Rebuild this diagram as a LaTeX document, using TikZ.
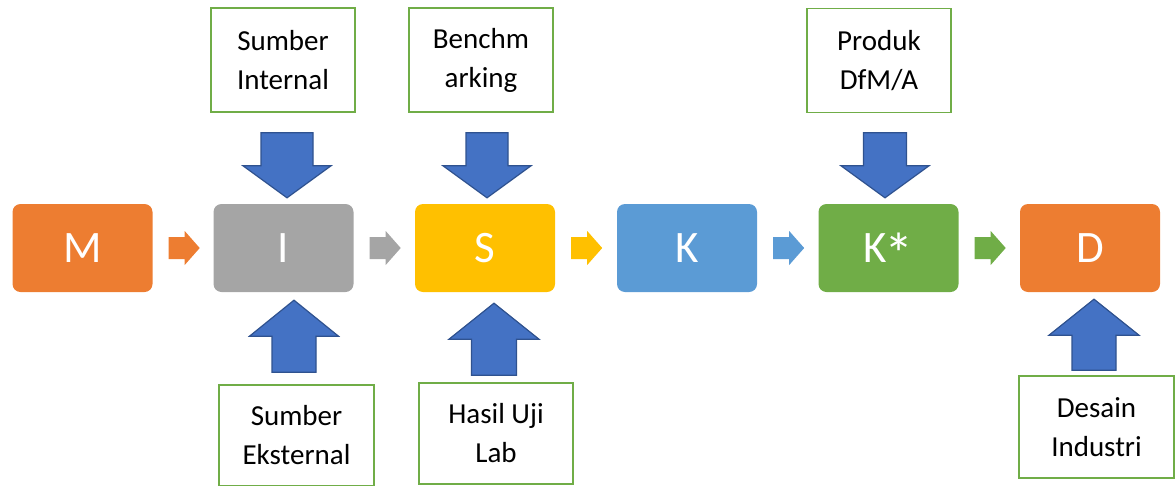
\documentclass[tikz,border=0pt]{standalone}
\usepackage{fontspec}
\setmainfont{Carlito}
\usetikzlibrary{calc}

\definecolor{cOrange}{HTML}{ED7D31}
\definecolor{cGray}{HTML}{A5A5A5}
\definecolor{cGold}{HTML}{FFC000}
\definecolor{cBlue}{HTML}{5B9BD5}
\definecolor{cGreen}{HTML}{70AD47}
\definecolor{cArrow}{HTML}{4472C4}
\definecolor{cArrowLine}{HTML}{2F528F}

% Block arrow: #1 style, #2 tail coordinate, #3 direction (deg),
% #4 length, #5 half shaft width, #6 half head width, #7 head length
\newcommand{\blockarrow}[7]{%
  \begin{scope}[shift={(#2)}, rotate=#3]
    \path[#1] (0pt,-#5pt) -- ({#4pt-#7pt},-#5pt) -- ({#4pt-#7pt},-#6pt)
      -- (#4pt,0pt) -- ({#4pt-#7pt},#6pt) -- ({#4pt-#7pt},#5pt) -- (0pt,#5pt) -- cycle;
  \end{scope}}

% a larger asterisk for the step label (kept out of the box size)
\newcommand{\bigstar}{\kern-0.04em\raisebox{-0.27em}[0pt][0pt]{\scalebox{1.3}{*}}}

\tikzset{
  mainbox/.style={rounded corners=8pt, minimum width=140pt, minimum height=88pt,
    inner sep=0pt, text=white, font=\fontsize{45pt}{50pt}\selectfont},
  sourcebox/.style={draw=cGreen, line width=1.8pt, fill=white, minimum width=144pt,
    minimum height=104pt, inner sep=0pt, align=center, text=black,
    font=\fontsize{29pt}{39pt}\selectfont},
  bigarrow/.style={fill=cArrow, draw=cArrowLine, line width=1.2pt, line join=miter},
}

\begin{document}
\begin{tikzpicture}[x=1pt, y=-1pt]
  \useasboundingbox (0,0) rectangle (1176,485);
  \clip (0,0) rectangle (1176,485);

  % process chain
  \node[mainbox, fill=cOrange] (M)  at (82.5,248)  {M};
  \node[mainbox, fill=cGray]   (I)  at (283.5,248) {I};
  \node[mainbox, fill=cGold]   (S)  at (485,248)   {S};
  \node[mainbox, fill=cBlue]   (K)  at (687,248)   {K};
  \node[mainbox, fill=cGreen]  (KS) at (888.5,248) {K\bigstar};
  \node[mainbox, fill=cOrange] (D)  at (1090,248)  {D};

  % inputs
  \node[sourcebox] (int)   at (283,60)    {Sumber\\Internal};
  \node[sourcebox] (bench) at (481,60)    {Benchm\\arking};
  \node[sourcebox] (prod)  at (879,60.5)  {Produk\\DfM/A};
  \node[sourcebox, minimum width=155pt, minimum height=101pt] (eks) at (296.5,435.5) {Sumber\\Eksternal};
  \node[sourcebox, minimum width=154pt, minimum height=101pt] (lab) at (496,433.5)   {Hasil Uji\\Lab};
  \node[sourcebox, minimum width=155pt, minimum height=102pt] (des) at (1096.5,427)  {Desain\\Industri};

  % small arrows between the steps
  \coordinate (tMI) at ($(M.east)+(16,0)$);
  \coordinate (tIS) at ($(I.east)+(16,0)$);
  \coordinate (tSK) at ($(S.east)+(16,0)$);
  \coordinate (tKK) at ($(K.east)+(16,0)$);
  \coordinate (tKD) at ($(KS.east)+(16,0)$);
  \blockarrow{fill=cOrange}{tMI}{0}{31}{11}{17}{15}
  \blockarrow{fill=cGray}{tIS}{0}{31}{11}{17}{15}
  \blockarrow{fill=cGold}{tSK}{0}{31}{11}{17}{15}
  \blockarrow{fill=cBlue}{tKK}{0}{31}{11}{17}{15}
  \blockarrow{fill=cGreen}{tKD}{0}{31}{11}{17}{15}

  % arrows from the inputs into the steps
  \coordinate (aInt)   at ($(I.north)+(3.5,-71)$);
  \coordinate (aBench) at ($(S.north)+(2,-71)$);
  \coordinate (aProd)  at ($(KS.north)+(-3.5,-71)$);
  \coordinate (aEks)   at ($(I.south)+(10.5,80)$);
  \coordinate (aLab)   at ($(S.south)+(9,83)$);
  \coordinate (aDes)   at ($(D.south)+(4,78)$);
  \blockarrow{bigarrow}{aInt}{-90}{65}{26}{44}{32}
  \blockarrow{bigarrow}{aBench}{-90}{65}{21}{44}{32}
  \blockarrow{bigarrow}{aProd}{-90}{65}{21.5}{44}{32}
  \blockarrow{bigarrow}{aEks}{90}{72}{22}{44.5}{36}
  \blockarrow{bigarrow}{aLab}{90}{72}{22.5}{45}{36}
  \blockarrow{bigarrow}{aDes}{90}{71}{22}{45}{36}
\end{tikzpicture}
\end{document}
